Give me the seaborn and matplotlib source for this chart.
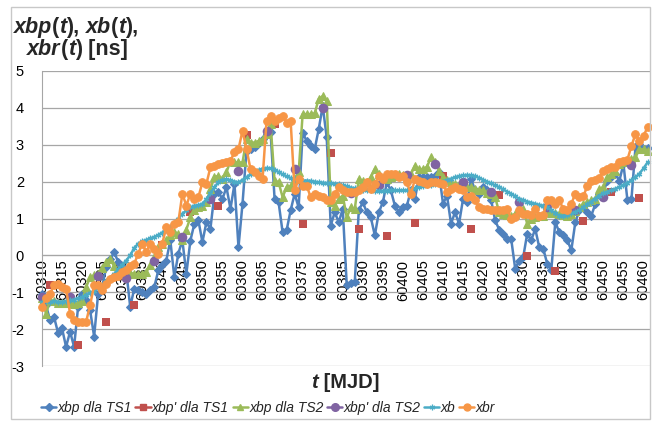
import matplotlib
matplotlib.use("Agg")
import matplotlib.pyplot as plt
from matplotlib.lines import Line2D
from matplotlib.patches import Rectangle
import numpy as np
import seaborn as sns

# ---------------- data ----------------
days = list(range(60310, 60462))  # MJD, daily

xbp_ts1 = [-1.04, -1.35, -1.76, -1.67, -2.1, -1.98, -2.48, -2.07, -2.48, -1.4,
           -1.04, -1.2, -1.49, -2.2, -1.04, -0.86, -0.32, -0.1, 0.09, -0.18,
           -0.3, -0.41, -1.4, -0.9, -0.95, -1.0, -1.04, -0.95, -0.86, -0.41,
           -0.25, -0.14, 0.41, -0.59, 0.05, 0.41, -0.5, 0.4, 0.86, 0.95,
           0.36, 0.9, 0.72, 1.67, 1.71, 1.53, 1.85, 1.26, 1.94, 0.22,
           1.4, 2.84, 2.88, 2.93, 3.06, 3.15, 3.29, 3.35, 1.53, 1.44,
           0.63, 0.68, 1.22, 1.67, 1.3, 3.33, 3.1, 2.97, 2.88, 3.42,
           4.05, 3.2, 0.81, 1.17, 0.9, 1.26, -0.81, -0.75, -0.72, 1.22,
           1.44, 1.17, 1.03, 0.54, 1.17, 1.44, 1.98, 1.76, 1.35, 1.17,
           1.3, 1.35, 1.76, 1.53, 2.12, 2.12, 2.12, 2.12, 2.15, 2.25,
           1.4, 1.62, 0.86, 1.17, 0.86, 1.53, 1.44, 2.07, 1.76, 1.67,
           1.85, 1.76, 1.5, 0.95, 0.7, 0.59, 0.45, 0.45, -0.36, -0.14,
           -0.05, 0.59, 0.41, 0.72, 0.22, 0.18, -0.23, -0.4, 0.9, 0.63,
           0.54, 0.41, 0.14, 0.9, 1.22, 1.3, 1.17, 1.08, 1.4, 1.67,
           1.71, 2.03, 2.12, 2.2, 2.03, 2.48, 1.49, 1.53, 2.93, 3.02,
           2.88, 2.9]

xbp_ts2 = [-1.15, -1.58, -1.22, -1.25, -1.28, -1.3, -1.28, -1.3, -1.32, -1.3,
           -1.25, -0.86, -0.59, -0.54, -0.5, -0.35, -0.18, -0.09, -0.3, -0.5,
           -0.45, -0.45, -0.48, -0.5, -0.5, -0.5, -0.45, -0.27, -0.05, 0.22,
           0.3, 0.41, 0.54, 0.63, 0.59, 0.41, 0.7, 1.03, 1.22, 1.3,
           1.35, 1.44, 1.8, 2.12, 2.16, 2.07, 2.25, 2.57, 2.52, 2.52,
           2.52, 3.15, 3.06, 3.06, 3.1, 3.15, 3.29, 3.56, 2.03, 1.98,
           1.58, 1.85, 1.89, 2.07, 2.25, 3.83, 3.83, 3.83, 3.85, 4.24,
           4.32, 4.19, 1.44, 1.35, 1.53, 1.62, 1.03, 1.3, 1.26, 2.07,
           2.03, 1.98, 2.12, 2.34, 2.2, 2.1, 2.07, 2.12, 2.16, 2.2,
           2.18, 2.12, 2.2, 2.43, 2.34, 2.34, 2.4, 2.66, 2.52, 2.3,
           2.12, 2.05, 1.98, 1.94, 1.9, 1.85, 1.85, 1.85, 1.8, 1.78,
           1.76, 1.7, 1.67, 1.58, 1.17, 1.13, 1.1, 1.08, 1.12, 1.17,
           1.26, 0.86, 0.99, 1.03, 1.06, 1.08, 1.17, 1.15, 1.15, 1.13,
           1.1, 1.08, 1.13, 1.2, 1.3, 1.4, 1.44, 1.5, 1.53, 1.8,
           1.85, 2.12, 2.2, 2.3, 2.48, 2.52, 2.57, 2.62, 2.66, 2.88,
           2.88, 2.84]

xb = [-1.26, -1.25, -1.26, -1.25, -1.26, -1.26, -1.24, -1.22, -1.2, -1.16,
      -1.13, -1.08, -1.02, -0.96, -0.88, -0.8, -0.7, -0.6, -0.5, -0.38,
      -0.25, -0.14, 0.0, 0.2, 0.32, 0.38, 0.42, 0.46, 0.5, 0.55,
      0.62, 0.7, 0.77, 0.88, 1.0, 1.13, 1.22, 1.3, 1.35, 1.36,
      1.4, 1.52, 1.68, 1.85, 1.98, 2.04, 2.06, 2.04, 2.0, 1.98,
      2.05, 2.12, 2.2, 2.26, 2.32, 2.35, 2.37, 2.36, 2.32, 2.26,
      2.2, 2.14, 2.1, 2.07, 2.04, 2.03, 2.03, 2.02, 2.0, 1.98,
      1.97, 1.96, 1.95, 1.94, 1.93, 1.9, 1.87, 1.84, 1.82, 1.8,
      1.78, 1.77, 1.76, 1.75, 1.75, 1.75, 1.75, 1.76, 1.76, 1.76,
      1.76, 1.77, 1.79, 1.82, 1.85, 1.88, 1.9, 1.92, 1.94, 1.96,
      2.0, 2.04, 2.08, 2.12, 2.15, 2.17, 2.18, 2.17, 2.15, 2.1,
      2.05, 2.0, 1.95, 1.9, 1.85, 1.79, 1.73, 1.67, 1.6, 1.54,
      1.49, 1.46, 1.43, 1.4, 1.37, 1.35, 1.3, 1.22, 1.14, 1.08,
      1.07, 1.1, 1.14, 1.18, 1.22, 1.3, 1.38, 1.46, 1.54, 1.62,
      1.68, 1.72, 1.77, 1.81, 1.85, 1.9, 1.96, 2.04, 2.12, 2.22,
      2.36, 2.52]

xbr = [-1.4, -1.15, -1.04, -0.81, -0.77, -0.86, -0.9, -1.58, -1.76, -1.8,
       -1.8, -1.8, -1.35, -0.81, -0.8, -0.95, -0.77, -0.65, -0.59, -0.55,
       -0.45, -0.4, -0.3, -0.23, 0.05, 0.32, 0.09, 0.32, 0.18, 0.05,
       0.32, 0.77, 0.63, 0.86, 0.9, 1.67, 1.35, 1.67, 1.53, 1.58,
       1.98, 1.94, 2.39, 2.43, 2.48, 2.5, 2.52, 2.57, 2.79, 2.88,
       3.38, 2.88, 2.34, 2.25, 2.16, 2.07, 3.65, 3.78, 3.65, 3.72,
       3.78, 3.6, 3.65, 1.76, 2.07, 1.89, 1.89, 1.58, 1.67, 1.6,
       1.58, 1.49, 1.49, 1.67, 1.85, 1.76, 1.71, 1.71, 1.71, 1.76,
       1.85, 1.98, 1.8, 1.94, 2.16, 2.07, 2.2, 2.2, 2.2, 2.12,
       2.16, 1.98, 1.67, 2.07, 2.03, 1.98, 1.94, 1.98, 1.98, 1.96,
       1.94, 1.71, 1.8, 1.85, 1.8, 1.78, 1.58, 1.62, 1.49, 1.3,
       1.26, 1.26, 1.24, 1.22, 1.22, 1.22, 1.26, 1.0, 1.03, 1.22,
       1.13, 1.13, 1.1, 1.26, 1.08, 1.1, 1.49, 1.49, 1.4, 1.49,
       1.26, 1.22, 1.4, 1.67, 1.58, 1.6, 1.89, 2.03, 2.05, 2.1,
       2.3, 2.34, 2.39, 2.4, 2.52, 2.57, 2.6, 2.97, 3.29, 3.11,
       3.24, 3.47]

ts1_days = list(range(60312, 60460, 7))
xbp_prime_ts1 = [-0.81, -2.43, -1.80, -1.35, 0.27, 1.17, 1.35, 3.26, 3.56, 0.86,
                 2.77, 0.72, 0.52, 0.88, 2.15, 0.72, 1.65, -0.02, -0.42, 0.92,
                 1.71, 1.55]

ts2_days = list(range(60310, 60458, 7))
xbp_prime_ts2 = [-1.13, -1.13, -0.55, -0.6, -0.16, 0.50, 1.53, 2.30, 3.36, 2.34,
                 3.99, 1.68, 1.9, 2.19, 2.49, 1.98, 1.71, 1.44, 1.32, 1.24,
                 1.59, 2.46]

major_ticks = list(range(60310, 60461, 5))
y_ticks = [-3, -2, -1, 0, 1, 2, 3, 4, 5]
legend_labels = ["xbp dla TS1", "xbp' dla TS1", "xbp dla TS2", "xbp' dla TS2", "xb", "xbr"]

# ---------------- style ----------------
sns.set_style("white")
plt.rcParams['font.family'] = ['Liberation Sans', 'DejaVu Sans']
plt.rcParams['axes.unicode_minus'] = False

C_BLUE = "#4F81BD"
C_RED = "#C0504D"
C_GREEN = "#9BBB59"
C_PURPLE = "#8064A2"
C_CYAN = "#4BACC6"
C_ORANGE = "#F79646"

W, H = 652, 421
fig = plt.figure(figsize=(W / 100, H / 100), dpi=100)
ax = fig.add_axes([42 / W, 1 - 366 / H, (650 - 42) / W, (366 - 71) / H])

lw = 1.8
sns.lineplot(x=days, y=xbp_ts1, ax=ax, color=C_BLUE, lw=lw, marker="D", ms=3.8,
             mec=C_BLUE, mfc=C_BLUE, clip_on=False, zorder=3)
sns.scatterplot(x=ts1_days, y=xbp_prime_ts1, ax=ax, color=C_RED, marker="s", s=32,
                edgecolor=C_RED, linewidth=0, clip_on=False, zorder=4)
sns.lineplot(x=days, y=xbp_ts2, ax=ax, color=C_GREEN, lw=lw, marker="^", ms=5.5,
             mec=C_GREEN, mfc=C_GREEN, clip_on=False, zorder=5)
sns.scatterplot(x=ts2_days, y=xbp_prime_ts2, ax=ax, color=C_PURPLE, marker="o", s=48,
                edgecolor=C_PURPLE, linewidth=0, clip_on=False, zorder=6)
sns.lineplot(x=days, y=xb, ax=ax, color=C_CYAN, lw=lw, marker=(6, 2, 0), ms=4,
             mec=C_CYAN, mew=0.9, clip_on=False, zorder=7)
sns.lineplot(x=days, y=xbr, ax=ax, color=C_ORANGE, lw=lw, marker="o", ms=5.5,
             mec=C_ORANGE, mfc=C_ORANGE, clip_on=False, zorder=8)

for s in ['top', 'right']:
    ax.spines[s].set_visible(False)
ax.spines['bottom'].set_position(('data', 0))
ax.spines['bottom'].set_color("#A6A6A6")
ax.spines['left'].set_color("#A6A6A6")

ax.set_xlim(60310, 60310 + (650 - 42) / 4.01)
ax.set_ylim(-3, 5)
ax.set_yticks(y_ticks)
ax.set_yticklabels([str(v) for v in y_ticks])
ax.set_xticks(major_ticks)
ax.set_xticklabels([str(v) for v in major_ticks])
ax.set_xticks(days, minor=True)
ax.grid(axis='y', color="#A6A6A6", lw=0.9, zorder=0)
ax.grid(axis='x', visible=False)
ax.set_axisbelow(True)
ax.set_xlabel("")
ax.set_ylabel("")

ax.tick_params(axis='x', which='both', direction='in', length=4, color="#A6A6A6",
               pad=3, labelcolor="black", labelrotation=90, labelsize=10.5)
ax.tick_params(axis='y', which='major', direction='out', length=4, color="#A6A6A6",
               pad=9, labelcolor="black", labelsize=10.5)

# chart border
fig.patches.append(Rectangle((11 / W, 1 - 419 / H), (650 - 11) / W, (419 - 7) / H,
                             transform=fig.transFigure, fill=False, ec="#C8C8C8", lw=1))

# rich text helper
renderer = fig.canvas.get_renderer()


def rich(pieces, x_px, y_px, size, center=False):
    texts = []
    x = 0.0
    for s, style in pieces:
        t = fig.text(0, 1 - y_px / H, s, fontsize=size, fontweight='bold', fontstyle=style,
                     va='baseline', ha='left')
        bb = t.get_window_extent(renderer)
        texts.append((t, x))
        x += bb.width
    start = x_px - x / 2 if center else x_px
    for t, off in texts:
        t.set_x((start + off) / W)


rich([("xbp", "italic"), ("(", "normal"), ("t", "italic"), ("), ", "normal"),
      ("xb", "italic"), ("(", "normal"), ("t", "italic"), ("),", "normal")], 14, 33, 15.5)
rich([("xbr", "italic"), ("(", "normal"), ("t", "italic"), (") [ns]", "normal")], 27, 55, 15.5)
rich([("t", "italic"), (" [MJD]", "normal")], 345, 388, 14.5, center=True)

# legend
handles = [
    Line2D([0], [0], color=C_BLUE, lw=lw, marker="D", ms=3.6),
    Line2D([0], [0], color=C_RED, lw=lw, marker="s", ms=5),
    Line2D([0], [0], color=C_GREEN, lw=lw, marker="^", ms=5),
    Line2D([0], [0], color=C_PURPLE, lw=lw, marker="o", ms=5.5),
    Line2D([0], [0], color=C_CYAN, lw=lw, marker=(6, 2, 0), ms=4, mew=0.9),
    Line2D([0], [0], color=C_ORANGE, lw=lw, marker="o", ms=5),
]
fig.legend(handles, legend_labels, loc='center', bbox_to_anchor=(268 / W, 1 - 408 / H),
           ncol=6, frameon=False, handlelength=1.1, handletextpad=0.1,
           columnspacing=0.25, prop={'style': 'italic', 'size': 10}, borderaxespad=0)

fig.savefig("out.png", dpi=100)
